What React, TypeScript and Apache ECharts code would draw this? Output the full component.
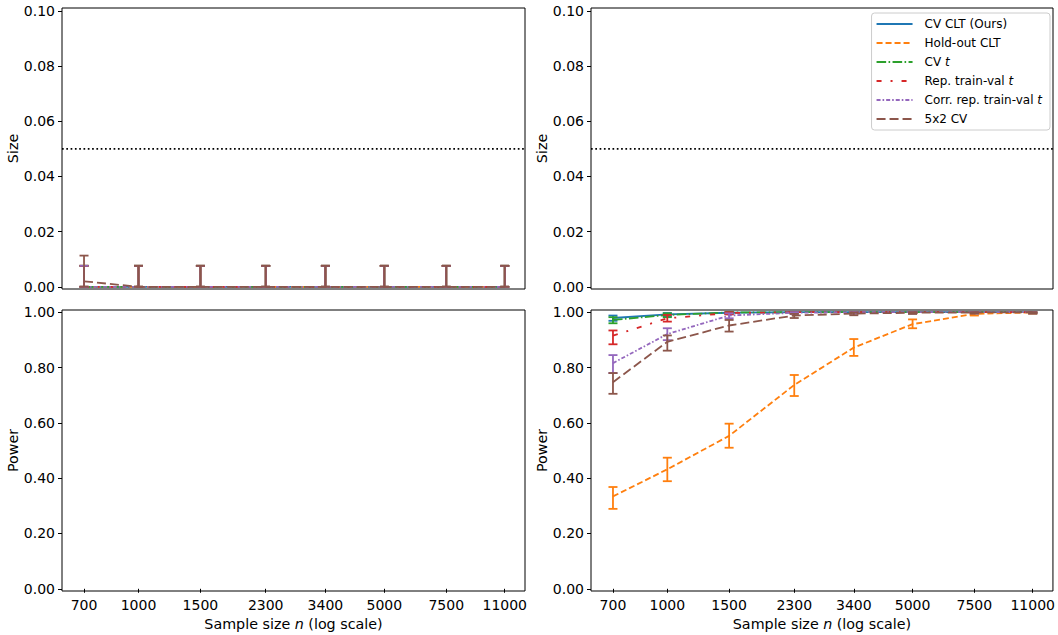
import React, { useEffect, useRef } from "react";
import * as echarts from "echarts";

const sampleSizes = [700, 1000, 1500, 2300, 3400, 5000, 7500, 11000];
const seriesNames = ["CV CLT (Ours)", "Hold-out CLT", "CV t", "Rep. train-val t", "Corr. rep. train-val t", "5x2 CV"];
const seriesColors = ["#1f77b4", "#ff7f0e", "#2ca02c", "#d62728", "#9467bd", "#8c564b"];
const seriesDashes: (string | number[])[] = ["solid", [6, 3], [9.6, 2.4, 1.6, 2.4], [5, 9, 2, 9], [4, 2, 1.6, 2], [9, 4]];

const sizeTicks = [0, 0.02, 0.04, 0.06, 0.08, 0.1];
const powerTicks = [0, 0.2, 0.4, 0.6, 0.8, 1.0];
const nominalLevel = 0.05;

// Size (top-left panel): mean, lower, upper
const sizeCvClt = [0, 0, 0, 0, 0, 0, 0, 0];
const sizeHoldout = [0, 0, 0, 0, 0, 0, 0, 0];
const sizeCvT = [0, 0, 0, 0, 0, 0, 0, 0];
const sizeRep = [0, 0, 0, 0, 0, 0, 0, 0];
const sizeCorr = [0, 0, 0, 0, 0, 0, 0, 0];
const size5x2 = [0.002, 0, 0, 0, 0, 0, 0, 0];
const sizeLower = [0, 0, 0, 0, 0, 0, 0, 0];
const sizeUpperCommon = [0.0076, 0.0076, 0.0076, 0.0076, 0.0076, 0.0076, 0.0076, 0.0076];
const sizeUpper5x2 = [0.0113, 0.0076, 0.0076, 0.0076, 0.0076, 0.0076, 0.0076, 0.0076];

// Power (bottom-right panel)
const powerCvClt = [0.979, 0.992, 0.998, 1.0, 1.0, 1.0, 1.0, 1.0];
const powerCvCltLo = [0.969, 0.985, 0.994, 0.996, 0.996, 0.996, 0.996, 0.996];
const powerCvCltHi = [0.988, 0.997, 1.0, 1.0, 1.0, 1.0, 1.0, 1.0];

const powerHoldout = [0.334, 0.432, 0.553, 0.737, 0.872, 0.957, 0.994, 0.999];
const powerHoldoutLo = [0.289, 0.389, 0.51, 0.697, 0.842, 0.942, 0.988, 0.995];
const powerHoldoutHi = [0.368, 0.474, 0.597, 0.773, 0.903, 0.974, 0.999, 1.0];

const powerCvT = [0.972, 0.99, 0.999, 1.0, 1.0, 1.0, 1.0, 1.0];
const powerCvTLo = [0.96, 0.982, 0.995, 0.996, 0.996, 0.996, 0.996, 0.996];
const powerCvTHi = [0.982, 0.996, 1.0, 1.0, 1.0, 1.0, 1.0, 1.0];

const powerRep = [0.915, 0.978, 0.997, 1.0, 1.0, 1.0, 1.0, 1.0];
const powerRepLo = [0.884, 0.966, 0.992, 0.996, 0.996, 0.996, 0.996, 0.996];
const powerRepHi = [0.934, 0.99, 1.0, 1.0, 1.0, 1.0, 1.0, 1.0];

const powerCorr = [0.816, 0.921, 0.988, 0.998, 1.0, 1.0, 1.0, 1.0];
const powerCorrLo = [0.78, 0.899, 0.978, 0.994, 0.996, 0.996, 0.996, 0.996];
const powerCorrHi = [0.845, 0.942, 0.996, 1.0, 1.0, 1.0, 1.0, 1.0];

const power5x2 = [0.747, 0.893, 0.952, 0.988, 0.995, 0.998, 0.999, 1.0];
const power5x2Lo = [0.705, 0.861, 0.93, 0.979, 0.989, 0.994, 0.996, 0.996];
const power5x2Hi = [0.78, 0.916, 0.972, 0.994, 0.999, 1.0, 1.0, 1.0];

const FONT = "DejaVu Sans";

export default function App() {
  const ref = useRef<HTMLDivElement>(null);
  useEffect(() => {
    if (!ref.current) return;
    const chart = echarts.init(ref.current, null, { renderer: "svg" });

    const sizeMeans = [sizeCvClt, sizeHoldout, sizeCvT, sizeRep, sizeCorr, size5x2];
    const sizeLows = [sizeLower, sizeLower, sizeLower, sizeLower, sizeLower, sizeLower];
    const sizeHighs = [sizeUpperCommon, sizeUpperCommon, sizeUpperCommon, sizeUpperCommon, sizeUpperCommon, sizeUpper5x2];
    const powMeans = [powerCvClt, powerHoldout, powerCvT, powerRep, powerCorr, power5x2];
    const powLows = [powerCvCltLo, powerHoldoutLo, powerCvTLo, powerRepLo, powerCorrLo, power5x2Lo];
    const powHighs = [powerCvCltHi, powerHoldoutHi, powerCvTHi, powerRepHi, powerCorrHi, power5x2Hi];

    const grids = [
      { left: 62, top: 8, width: 463, height: 281 },
      { left: 591, top: 8, width: 462, height: 281 },
      { left: 62, top: 310, width: 463, height: 281 },
      { left: 591, top: 310, width: 462, height: 281 },
    ].map((g) => ({ ...g, show: true, borderColor: "#000", borderWidth: 1, backgroundColor: "#fff" }));

    const xMin = 606;
    const xMax = 12560;
    const xAxes = [0, 1, 2, 3].map((i) => {
      const bottom = i >= 2;
      return {
        type: "log",
        logBase: 10,
        gridIndex: i,
        min: xMin,
        max: xMax,
        axisLine: { show: false },
        splitLine: { show: false },
        minorTick: { show: false },
        axisTick: {
          show: bottom,
          length: 4,
          lineStyle: { color: "#000", width: 1 },
          customValues: sampleSizes,
        },
        axisLabel: {
          show: bottom,
          customValues: sampleSizes,
          formatter: (v: number) => String(Math.round(v)),
          fontFamily: FONT,
          fontSize: 14,
          color: "#000",
          margin: 7,
        },
        name: bottom ? "Sample size {i|n} (log scale)" : "",
        nameLocation: "middle",
        nameGap: 26,
        nameTextStyle: {
          fontFamily: FONT,
          fontSize: 14.3,
          color: "#000",
          rich: { i: { fontStyle: "italic", fontFamily: FONT, fontSize: 14.3, color: "#000" } },
        },
      };
    });

    const yAxes = [0, 1, 2, 3].map((i) => {
      const top = i < 2;
      const ticks = top ? sizeTicks : powerTicks;
      return {
        type: "value",
        gridIndex: i,
        min: top ? -0.0008 : -0.008,
        max: top ? 0.101 : 1.008,
        axisLine: { show: false },
        splitLine: { show: false },
        axisTick: { show: true, length: 4, lineStyle: { color: "#000", width: 1 }, customValues: ticks },
        axisLabel: {
          customValues: ticks,
          formatter: (v: number) => v.toFixed(2),
          fontFamily: FONT,
          fontSize: 14,
          color: "#000",
          margin: 7,
        },
        name: top ? "Size" : "Power",
        nameLocation: "middle",
        nameGap: 42,
        nameRotate: 90,
        nameTextStyle: { fontFamily: FONT, fontSize: 14.3, color: "#000" },
      };
    });

    const errRender = (color: string) => (params: any, api: any) => {
      const x = api.value(0);
      const lo = api.value(1);
      const hi = api.value(2);
      const p1 = api.coord([x, lo]);
      const p2 = api.coord([x, hi]);
      const style = { stroke: color, lineWidth: 1.8, fill: "none" };
      const cap = 4.5;
      return {
        type: "group",
        children: [
          { type: "line", shape: { x1: p1[0], y1: p1[1], x2: p2[0], y2: p2[1] }, style },
          { type: "line", shape: { x1: p1[0] - cap, y1: p1[1], x2: p1[0] + cap, y2: p1[1] }, style },
          { type: "line", shape: { x1: p2[0] - cap, y1: p2[1], x2: p2[0] + cap, y2: p2[1] }, style },
        ],
      };
    };

    const series: any[] = [];
    const addPanel = (axisIdx: number, means: number[][], lows: number[][], highs: number[][]) => {
      seriesNames.forEach((name, k) => {
        series.push({
          type: "line",
          name,
          xAxisIndex: axisIdx,
          yAxisIndex: axisIdx,
          data: sampleSizes.map((n, j) => [n, means[k][j]]),
          symbol: "none",
          lineStyle: { color: seriesColors[k], width: 1.8, type: seriesDashes[k] },
          itemStyle: { color: seriesColors[k] },
          z: 2 + k,
        });
        series.push({
          type: "custom",
          name: "err-" + axisIdx + "-" + k,
          xAxisIndex: axisIdx,
          yAxisIndex: axisIdx,
          data: sampleSizes.map((n, j) => [n, lows[k][j], highs[k][j]]),
          encode: { x: 0, y: [1, 2] },
          renderItem: errRender(seriesColors[k]),
          z: 2 + k,
        });
      });
    };
    addPanel(0, sizeMeans, sizeLows, sizeHighs);
    addPanel(3, powMeans, powLows, powHighs);

    [0, 1].forEach((idx) => {
      series.push({
        type: "line",
        name: "nominal-" + idx,
        xAxisIndex: idx,
        yAxisIndex: idx,
        data: [
          [xMin, nominalLevel],
          [xMax, nominalLevel],
        ],
        symbol: "none",
        lineStyle: { color: "#000", width: 1.7, type: [1.7, 2.6] },
        z: 1,
      });
    });

    chart.setOption({
      animation: false,
      backgroundColor: "#fff",
      grid: grids,
      xAxis: xAxes,
      yAxis: yAxes,
      legend: {
        data: seriesNames,
        orient: "vertical",
        right: 8,
        top: 13,
        itemWidth: 36,
        itemHeight: 12,
        itemGap: 7,
        padding: [5, 8, 5, 4],
        backgroundColor: "#fff",
        borderColor: "#ccc",
        borderWidth: 1,
        borderRadius: 3,
        itemStyle: { opacity: 0 },
        textStyle: {
          fontFamily: FONT,
          fontSize: 12,
          color: "#000",
          padding: [0, 0, 0, 7],
          rich: { i: { fontStyle: "italic", fontFamily: FONT, fontSize: 12, color: "#000" } },
        },
        formatter: (name: string) => (name.endsWith(" t") ? name.slice(0, -1) + "{i|t}" : name),
        z: 10,
      },
      series,
    });
    return () => chart.dispose();
  }, []);
  return <div ref={ref} style={{ width: 1058, height: 635, position: "absolute", left: 0, top: 0 }} />;
}
